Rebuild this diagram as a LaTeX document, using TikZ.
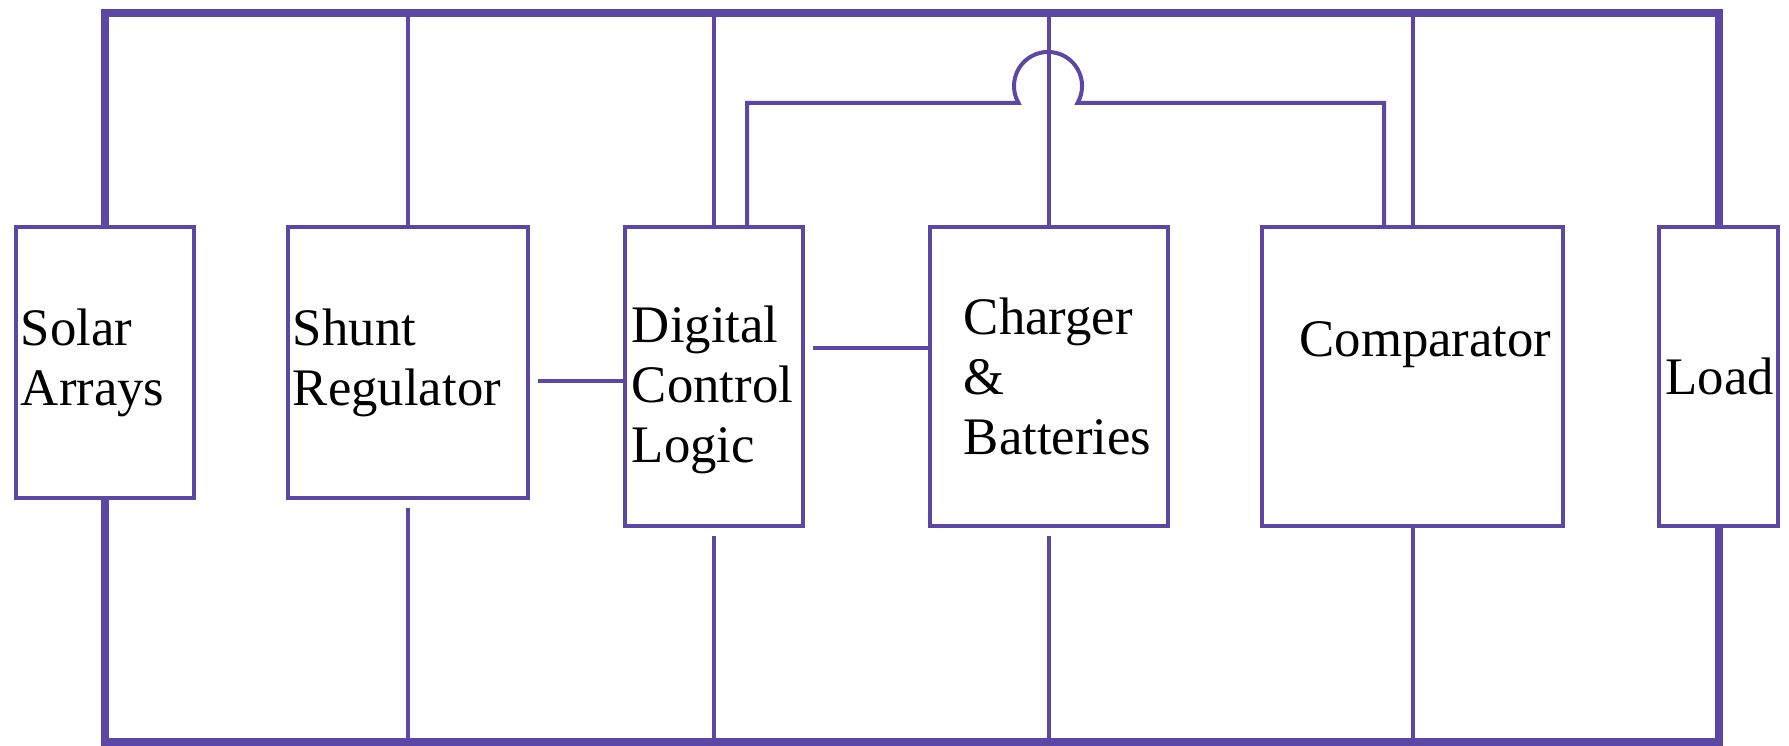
\documentclass[tikz,border=0pt]{standalone}
\usepackage{fontspec}
\setmainfont{Liberation Serif}
\usepackage{tikz}
\usetikzlibrary{calc}
\definecolor{wirecol}{RGB}{92,72,164}
\hyphenpenalty=10000

\begin{document}
\begin{tikzpicture}[x=0.01cm, y=0.01cm,
    blk/.style={draw=wirecol, line width=0.04cm, align=left, inner ysep=0pt, font=\fontsize{15}{17.1}\selectfont},
    bus/.style={draw=wirecol, line width=0.08cm},
    wire/.style={draw=wirecol, line width=0.04cm}]
    \useasboundingbox (0,0) rectangle (1789,746);

    \node[blk, minimum width=1.78cm, minimum height=2.71cm, inner xsep=0.05cm, text width=1.68cm] (solar) at (105,383.5) {Solar\\Arrays};
    \node[blk, minimum width=2.40cm, minimum height=2.71cm, inner xsep=0.05cm, text width=2.30cm] (shunt) at (408,383.5) {Shunt\\Regulator};
    \node[blk, minimum width=1.78cm, minimum height=2.99cm, inner xsep=0.07cm, text width=1.64cm] (dcl) at (714,369.5) {\rule{0pt}{0.63cm}Digital\\Control\\Logic};
    \node[blk, minimum width=2.38cm, minimum height=2.99cm, inner xsep=0.34cm, text width=1.70cm] (chg) at (1049,369.5) {Charger\\\&\\Batteries};
    \node[blk, minimum width=3.01cm, minimum height=2.99cm, inner xsep=0.375cm, text width=2.26cm, text height=0.36cm, text depth=0.75cm] (cmp) at (1412.5,369.5) {Comparator};
    \node[blk, minimum width=1.19cm, minimum height=2.99cm, inner xsep=0.065cm, text width=1.06cm] (load) at (1718.5,369.5) {Load};

    \coordinate (top) at (0,733);
    \coordinate (bot) at (0,4);
    \coordinate (hopl) at (1018.56,643);

    % supply rails
    \draw[bus] (solar.north) |- (top -| load.north) -- (load.north);
    \draw[bus] (solar.south) |- (bot -| load.south) -- (load.south);

    \foreach \n in {shunt, dcl, chg, cmp}
        \draw[wire] (\n.north) -- (\n.north |- top);
    \foreach \n in {shunt, dcl, chg}
        \draw[wire, shorten <=0.08cm] (\n.south) -- (\n.south |- bot);
    \draw[wire] (cmp.south) -- (cmp.south |- bot);

    \draw[wire, shorten <=0.08cm] ([yshift=-0.185cm]shunt.east) -- ([yshift=-0.185cm]shunt.east -| dcl.west);
    \draw[wire, shorten <=0.08cm] ([yshift=0.285cm]dcl.east) -- ([yshift=0.285cm]dcl.east -| chg.west);

    % control line hopping over the charger feed
    \draw[wire] ([xshift=0.33cm]dcl.north) |- (hopl) arc[start angle=210, end angle=-30, radius=0.34cm] -| ([xshift=-0.285cm]cmp.north);
\end{tikzpicture}
\end{document}
